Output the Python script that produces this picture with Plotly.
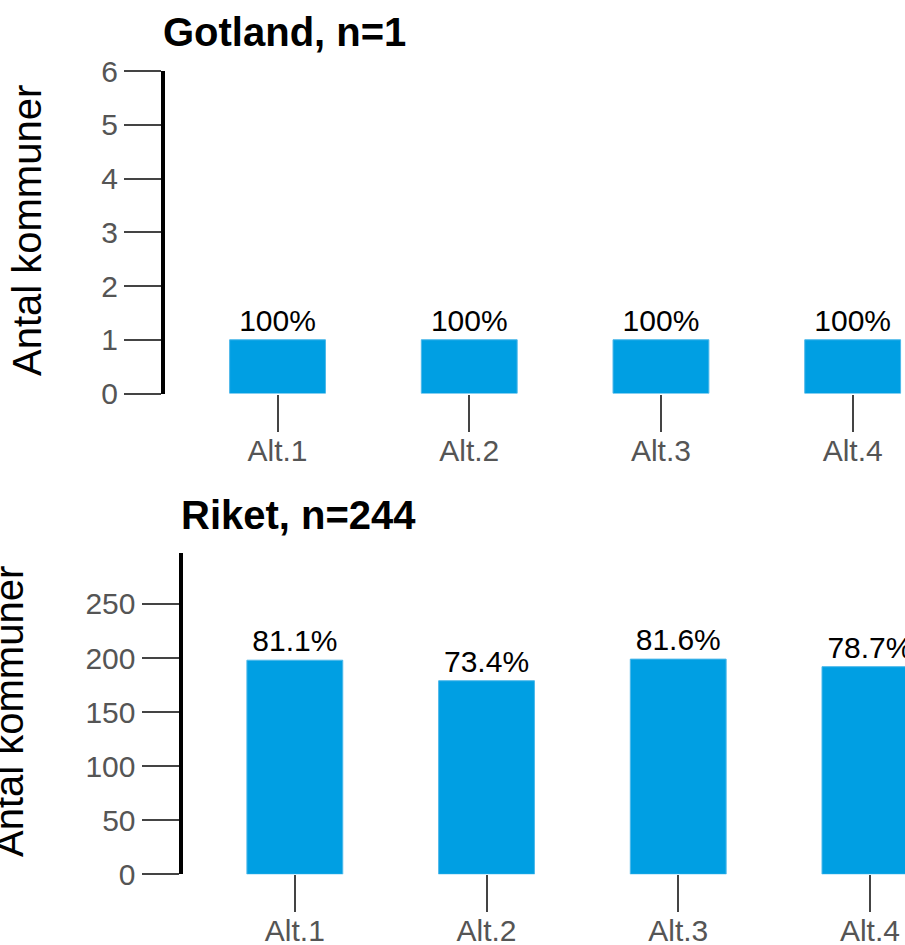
import plotly.graph_objects as go

categories = ["Alt.1", "Alt.2", "Alt.3", "Alt.4"]
gotland_counts = [1, 1, 1, 1]
gotland_labels = ["100%", "100%", "100%", "100%"]
riket_counts = [198, 179, 199, 192]
riket_labels = ["81.1%", "73.4%", "81.6%", "78.7%"]

title_top = "Gotland, n=1"
title_bottom = "Riket, n=244"
y_title = "Antal kommuner"

W, H = 905, 945
FONT = "Liberation Sans, Arial, sans-serif"
BAR = "#009FE3"

def px_x(p):
    return p / W

def px_y(p):
    return 1 - p / H

fig = go.Figure()

fig.add_trace(go.Bar(
    x=categories, y=gotland_counts, text=gotland_labels, textposition="outside",
    textfont=dict(family=FONT, size=30, color="black"),
    marker=dict(color=BAR, line=dict(color="#4DB8EA", width=1)),
    width=0.5, xaxis="x", yaxis="y", cliponaxis=True, showlegend=False,
))
fig.add_trace(go.Bar(
    x=categories, y=riket_counts, text=riket_labels, textposition="outside",
    textfont=dict(family=FONT, size=30, color="black"),
    marker=dict(color=BAR, line=dict(color="#4DB8EA", width=1)),
    width=0.5, xaxis="x2", yaxis="y2", cliponaxis=True, showlegend=False,
))

xcommon = dict(
    type="category", showline=False, showgrid=False, zeroline=False,
    ticks="outside", ticklen=37, tickwidth=1.5, tickcolor="#444",
    tickfont=dict(family=FONT, size=30, color="#555"), automargin=False,
    ticklabelstandoff=-7,
)
ycommon = dict(
    showline=True, linecolor="black", linewidth=4, showgrid=False, zeroline=False,
    ticks="outside", ticklen=37, tickwidth=1.5, tickcolor="#444",
    tickfont=dict(family=FONT, size=30, color="#555"), automargin=False,
)

fig.update_layout(
    width=W, height=H,
    margin=dict(l=0, r=0, t=0, b=0),
    paper_bgcolor="white", plot_bgcolor="white",
    font=dict(family=FONT),
    xaxis=dict(**xcommon, domain=[px_x(165), 1], range=[-0.587, 3.273], anchor="y"),
    yaxis=dict(**ycommon, domain=[px_y(393.5), px_y(71)], range=[0, 6], dtick=1, anchor="x"),
    xaxis2=dict(**xcommon, domain=[px_x(182.5), 1], range=[-0.586, 3.183], anchor="y2"),
    yaxis2=dict(**ycommon, domain=[px_y(874.3), px_y(552.7)], range=[0, 297.4], dtick=50, anchor="x2"),
    annotations=[
        dict(text="<b>%s</b>" % title_top, xref="paper", yref="paper", x=px_x(161), y=px_y(32),
             xanchor="left", yanchor="middle", showarrow=False,
             font=dict(family=FONT, size=40, color="black")),
        dict(text="<b>%s</b>" % title_bottom, xref="paper", yref="paper", x=px_x(179), y=px_y(515),
             xanchor="left", yanchor="middle", showarrow=False,
             font=dict(family=FONT, size=40, color="black")),
        dict(text=y_title, xref="paper", yref="paper", x=px_x(27), y=px_y(231),
             xanchor="center", yanchor="middle", textangle=-90, showarrow=False,
             font=dict(family=FONT, size=40, color="black")),
        dict(text=y_title, xref="paper", yref="paper", x=px_x(9), y=px_y(712),
             xanchor="center", yanchor="middle", textangle=-90, showarrow=False,
             font=dict(family=FONT, size=40, color="black")),
    ],
)

fig.write_html("out.html", config={"displayModeBar": False},
               post_script="document.body.style.margin='0px';")
